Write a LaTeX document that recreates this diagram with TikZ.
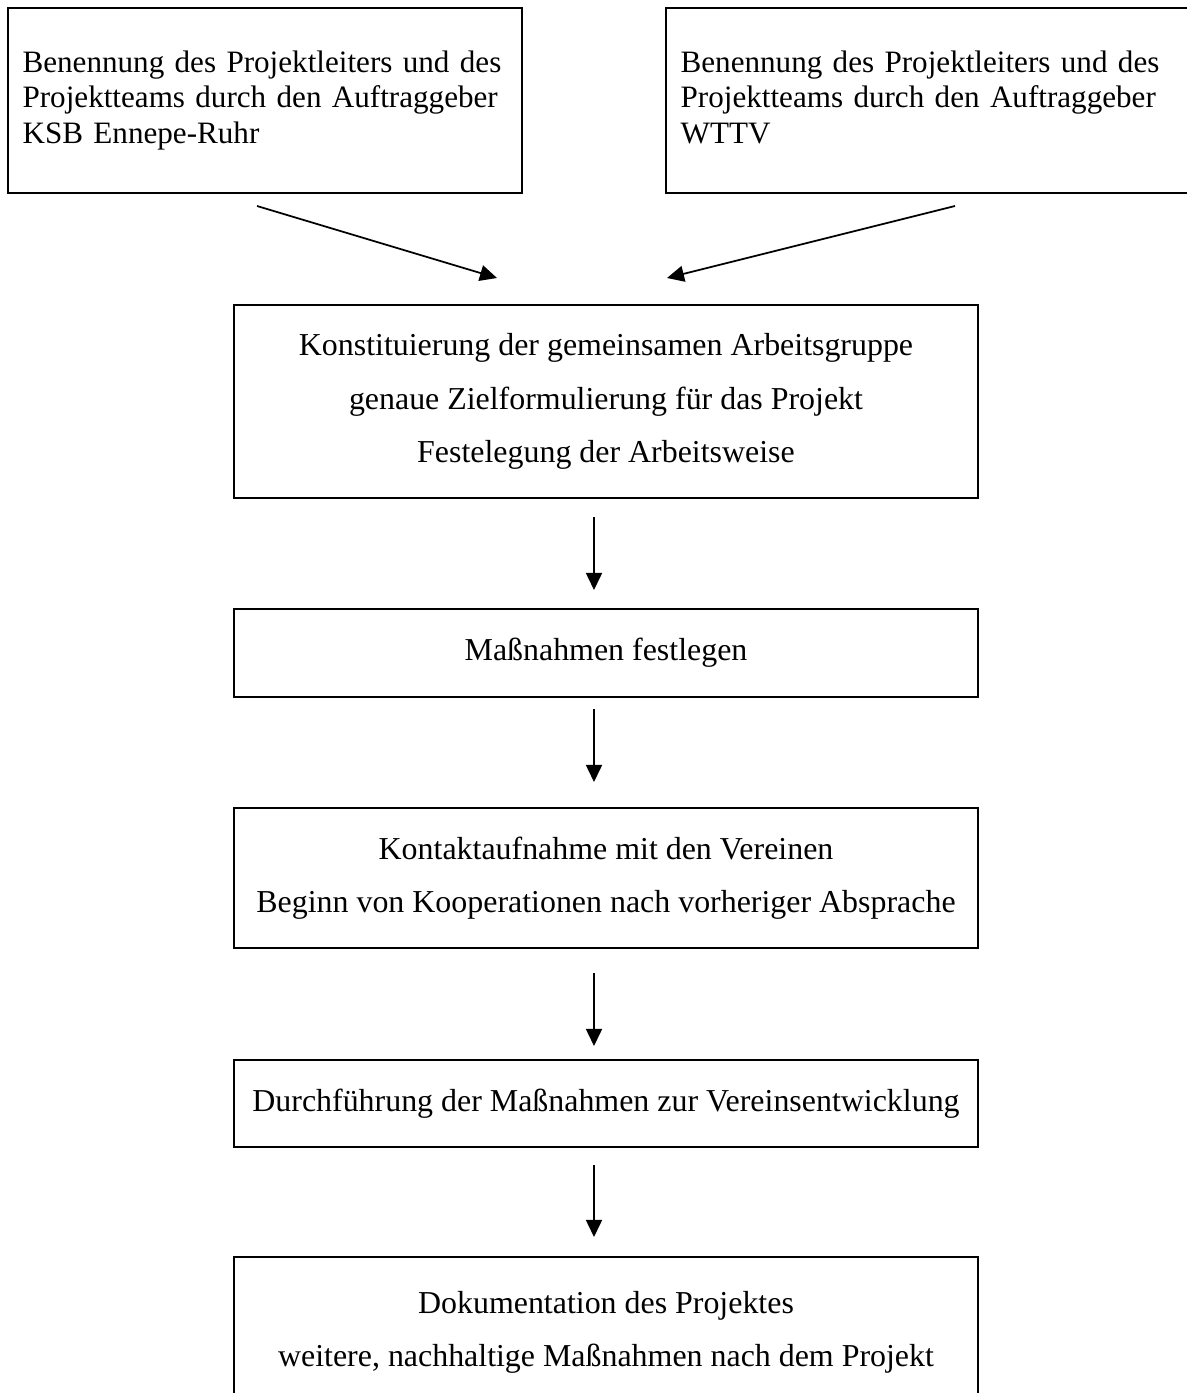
\documentclass[tikz,border=0pt]{standalone}
\usepackage{fontspec}
\setmainfont{Liberation Serif}
\usetikzlibrary{arrows.meta,positioning,calc}

\begin{document}
\begin{tikzpicture}[x=0.376pt,y=-0.376pt,
    stepbox/.style={draw,line width=0.65pt,rectangle,minimum width=279.7pt,inner sep=0pt,align=center,font=\fontsize{12}{20}\selectfont},
    topbox/.style={draw,line width=0.65pt,rectangle,minimum height=69.6pt,inner xsep=5.5pt,inner ysep=0pt,align=left,font=\fontsize{11.7}{13.5}\selectfont},
    arr/.style={line width=0.65pt,-{Triangle[length=6.4pt,width=6pt]}}]
    \useasboundingbox (0,0) rectangle (1186,1393);

    % Auftraggeber
    \node[topbox,text width=182.3pt] (ksb) at (265,100.5) {\mbox{Benennung des Projektleiters und des}\\\mbox{Projektteams durch den Auftraggeber}\\KSB Ennepe-Ruhr};
    \node[topbox,text width=187.9pt] (wttv) at (930.5,100.5) {\mbox{Benennung des Projektleiters und des}\\\mbox{Projektteams durch den Auftraggeber}\\WTTV\vphantom{p}};

    % Ablauf
    \node[stepbox,minimum height=72.6pt] (gruppe) at (606,401.5) {Konstituierung der gemeinsamen Arbeitsgruppe\\genaue Zielformulierung f\"ur das Projekt\\Festelegung der Arbeitsweise};
    \node[stepbox,minimum height=33.1pt] (mass) at (606,653) {Ma\ss nahmen festlegen};
    \node[stepbox,minimum height=52.6pt] (kontakt) at (606,878) {Kontaktaufnahme mit den Vereinen\\Beginn von Kooperationen nach vorheriger Absprache};
    \node[stepbox,minimum height=32.7pt] (durch) at (606,1103.5) {Durchf\"uhrung der Ma\ss nahmen zur Vereinsentwicklung};
    \node[stepbox,minimum height=56.4pt] (doku) at (606,1332) {Dokumentation des Projektes\\weitere, nachhaltige Ma\ss nahmen nach dem Projekt};

    % Pfeile
    \coordinate (ksbout) at (257,206);
    \coordinate (ksbin) at (497,278);
    \coordinate (wttvout) at (955,206);
    \coordinate (wttvin) at (667,278);
    \draw[arr] (ksbout) -- (ksbin);
    \draw[arr] (wttvout) -- (wttvin);
    \foreach \ya/\yb [count=\i] in {517/590,709/782,973/1046,1165/1237} {
        \coordinate (s\i) at (594,\ya);
        \coordinate (e\i) at (594,\yb);
        \draw[arr] (s\i) -- (e\i);
    }
\end{tikzpicture}
\end{document}
